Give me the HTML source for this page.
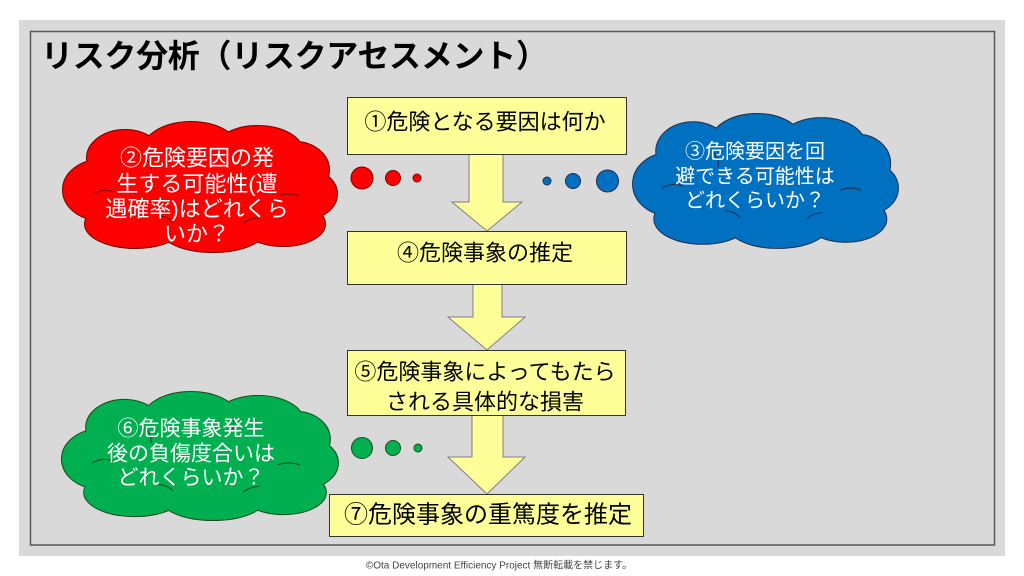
<!DOCTYPE html>
<html>
<head>
<meta charset="utf-8">
<style>
html,body{margin:0;padding:0;background:#fff;width:1024px;height:576px;overflow:hidden;}
svg{display:block;}
text{font-family:"Liberation Sans","Noto Sans CJK JP",sans-serif;}
</style>
</head>
<body>
<svg width="1024" height="576" viewBox="0 0 1024 576" xmlns="http://www.w3.org/2000/svg">
  <defs>
    <g id="cl">
      <ellipse cx="137" cy="66" rx="112" ry="46"/>
      <ellipse cx="37" cy="68" rx="37" ry="30"/>
      <ellipse cx="62" cy="36" rx="38" ry="28"/>
      <ellipse cx="128" cy="28" rx="48" ry="28"/>
      <ellipse cx="195" cy="30" rx="45" ry="26"/>
      <ellipse cx="232" cy="48" rx="34" ry="28"/>
      <ellipse cx="242" cy="72" rx="32" ry="25"/>
      <ellipse cx="220" cy="102" rx="42" ry="22"/>
      <ellipse cx="150" cy="108" rx="52" ry="22"/>
      <ellipse cx="72" cy="102" rx="50" ry="24"/>
    </g>
    <g id="cr" fill="none">
      <path d="M30,72 Q40,66 52,70"/>
      <path d="M82,36 Q90,44 88,52"/>
      <path d="M170,26 Q172,34 168,40"/>
      <path d="M236,74 Q226,70 214,74"/>
      <path d="M180,102 Q186,96 196,96"/>
      <path d="M110,100 Q104,94 96,94"/>
    </g>
  </defs>

  <!-- slide background -->
  <rect x="19" y="20" width="986" height="536" fill="#D9D9D9"/>
  <rect x="30.5" y="31.5" width="964" height="513.5" fill="none" stroke="#595959" stroke-width="1.5"/>

  <!-- title -->
  <text x="41" y="56" font-size="32" font-weight="bold" letter-spacing="-0.3" fill="#000" dominant-baseline="central">リスク分析（リスクアセスメント）</text>

  <!-- arrows -->
  <g fill="#FFFF99" stroke="#7F7F7F" stroke-width="1">
    <polygon points="469,150 503,150 503,202 522,202 487,231 452,202 469,202"/>
    <polygon points="473,280 502,280 502,317 525,317 487,350 448,317 473,317"/>
    <polygon points="472,410 503,410 503,457 525,457 487,494 448,457 472,457"/>
  </g>

  <!-- boxes -->
  <g fill="#FFFF99" stroke="#333" stroke-width="1">
    <rect x="347.5" y="97.5" width="279" height="57"/>
    <rect x="347.5" y="231.5" width="279" height="53"/>
    <rect x="347.5" y="350.5" width="278" height="65"/>
    <rect x="329.5" y="494.5" width="314" height="42"/>
  </g>

  <g font-size="22" fill="#000" text-anchor="middle" dominant-baseline="central">
    <text x="485" y="122">①危険となる要因は何か</text>
    <text x="485" y="253">④危険事象の推定</text>
    <text x="485" y="372">⑤危険事象によってもたら</text>
    <text x="485" y="402">される具体的な損害</text>
    <text x="488" y="515" font-size="24">⑦危険事象の重篤度を推定</text>
  </g>

  <!-- red cloud -->
  <g transform="translate(63,122)">
    <use href="#cl" fill="#FF0000" stroke="#7A0000" stroke-width="2"/>
    <use href="#cl" fill="#FF0000"/>
    <use href="#cr" stroke="#7A0000" stroke-width="1"/>
  </g>
  <!-- blue cloud -->
  <g transform="translate(633,114) scale(0.967,1.03)">
    <use href="#cl" fill="#0070C0" stroke="#1F2F4F" stroke-width="2" vector-effect="non-scaling-stroke"/>
    <use href="#cl" fill="#0070C0"/>
    <use href="#cr" stroke="#1F2F4F" stroke-width="1"/>
  </g>
  <!-- green cloud -->
  <g transform="translate(62,392) scale(1.007,0.985)">
    <use href="#cl" fill="#00B050" stroke="#1E4A1E" stroke-width="2" vector-effect="non-scaling-stroke"/>
    <use href="#cl" fill="#00B050"/>
    <use href="#cr" stroke="#1E4A1E" stroke-width="1"/>
  </g>

  <!-- dots -->
  <g fill="#FF0000" stroke="#7A0000" stroke-width="1">
    <circle cx="362" cy="178" r="11"/>
    <circle cx="393" cy="178" r="7.5"/>
    <circle cx="417" cy="178" r="4"/>
  </g>
  <g fill="#0070C0" stroke="#1F2F4F" stroke-width="1">
    <circle cx="547" cy="181" r="4"/>
    <circle cx="573" cy="181" r="7.5"/>
    <circle cx="607.5" cy="181" r="11"/>
  </g>
  <g fill="#00B050" stroke="#1E4A1E" stroke-width="1">
    <circle cx="362" cy="448" r="10.5"/>
    <circle cx="393" cy="448" r="7.5"/>
    <circle cx="418" cy="448" r="4"/>
  </g>

  <!-- cloud texts -->
  <g fill="#fff" text-anchor="middle" dominant-baseline="central">
    <g font-size="22">
      <text x="197" y="158">②危険要因の発</text>
      <text x="197" y="184">生する可能性(遭</text>
      <text x="197" y="209">遇確率)はどれくら</text>
      <text x="197" y="234">いか？</text>
    </g>
    <g font-size="20">
      <text x="755" y="152">③危険要因を回</text>
      <text x="755" y="177">避できる可能性は</text>
      <text x="755" y="201">どれくらいか？</text>
    </g>
    <g font-size="21">
      <text x="191" y="429">⑥危険事象発生</text>
      <text x="191" y="454">後の負傷度合いは</text>
      <text x="191" y="478">どれくらいか？</text>
    </g>
  </g>

  <!-- footer -->
  <text x="499" y="566" font-size="10" fill="#444" text-anchor="middle" dominant-baseline="central">©Ota Development Efficiency Project 無断転載を禁じます。</text>
</svg>
</body>
</html>
